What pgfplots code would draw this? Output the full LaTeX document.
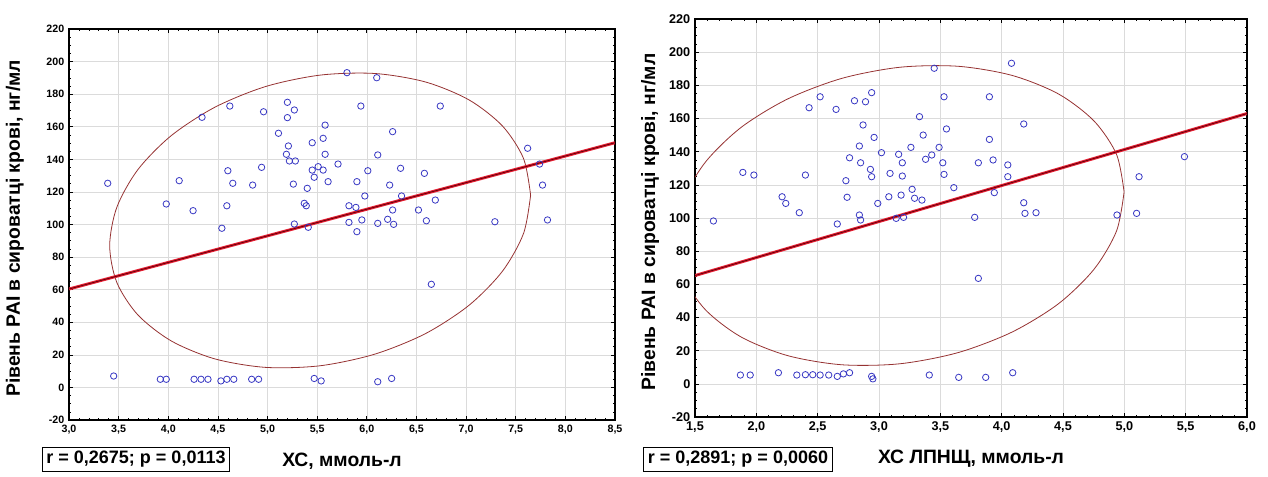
\documentclass[border=0pt]{standalone}
\usepackage{fontspec}
\setmainfont{Liberation Sans}
\usepackage{pgfplots}
\pgfplotsset{compat=1.18}

\definecolor{pt}{RGB}{55,55,195}
\definecolor{ell}{RGB}{150,50,50}
\definecolor{reg}{RGB}{230,30,50}
\definecolor{regc}{RGB}{100,0,10}

\pgfplotsset{
  panel/.style={
    scale only axis, anchor=south west,
    ymin=-20, ymax=220, ytick={-20,0,20,...,220},
    grid=major, major grid style={gray!28, line width=0.4pt},
    minor x tick num=4, minor y tick num=3,
    tick align=inside, xtick pos=both, ytick pos=both,
    major tick length=3pt, minor tick length=1.8pt,
    tick style={black, line width=0.5pt},
    axis line style={black, line width=0.8pt},
    /pgf/number format/assume math mode=true,
    /pgf/number format/use comma,
    xticklabel style={/pgf/number format/fixed, /pgf/number format/fixed zerofill, /pgf/number format/precision=1},
    label style={font=\fontsize{14.5}{16}\selectfont\bfseries},
    x label style={at={(axis description cs:0.5,0)}, anchor=center, yshift=-31pt},
  },
  dots/.style={only marks, mark=o, mark size=2.4pt, mark options={draw=pt, line width=0.6pt}},
  ellip/.style={ell, line width=0.6pt, smooth},
}

\begin{document}
\begin{tikzpicture}
\useasboundingbox (0,0) rectangle (951pt,357pt);

% ---- left: XC
\begin{axis}[panel, at={(51.75pt,42pt)}, width=409.5pt, height=293.25pt,
  xmin=3, xmax=8.5, xtick={3,3.5,4,4.5,5,5.5,6,6.5,7,7.5,8,8.5},
  tick label style={font=\fontsize{8}{9}\selectfont\bfseries},
  xlabel={ХС, ммоль-л},
  ylabel={Рівень PAI в сироватці крові, нг/мл},
  y label style={at={(axis description cs:-0.099,0.49)}, anchor=center}]
\addplot[ellip] coordinates {
 (7.650,118.0) (7.578,140.6) (7.366,160.5) (7.029,176.5) (6.590,187.5) (6.079,192.7)
 (5.530,191.7) (4.981,184.7) (4.470,172.0) (4.031,154.6) (3.694,133.7) (3.482,110.6)
 (3.410,87.0) (3.482,64.4) (3.694,44.5) (4.031,28.5) (4.470,17.5) (4.981,12.3)
 (5.530,13.3) (6.079,20.4) (6.590,33.0) (7.029,50.4) (7.366,71.3) (7.578,94.4) (7.650,118.0)};
\addplot[reg, line width=2.2pt] coordinates {(3,60.4) (8.5,150.2)};
\addplot[regc, line width=0.6pt] coordinates {(3,60.4) (8.5,150.2)};
\addplot[dots] coordinates {
 (4.62,172.7) (4.34,165.8) (4.96,169.2) (5.20,175.0) (5.27,170.3) (5.20,165.6) (5.11,156.0)
 (5.58,161.0) (5.56,152.9) (5.45,150.2) (5.21,148.2) (5.19,143.1) (5.22,139.0) (5.28,139.0)
 (5.58,143.1) (5.71,137.1) (5.45,133.4) (5.51,135.5) (5.56,133.4) (5.47,129.0) (5.61,126.3)
 (5.26,124.8) (5.40,122.2) (5.37,113.0) (5.39,111.5) (5.27,100.3) (5.41,98.3) (4.60,133.0)
 (4.65,125.3) (4.85,124.2) (4.94,135.1) (4.59,111.5) (4.25,108.5) (4.54,97.7) (4.11,126.9)
 (5.80,193.2) (6.10,190.1) (5.94,172.7) (6.74,172.7) (6.26,157.0) (6.11,142.7) (6.01,133.0)
 (6.34,134.5) (6.58,131.4) (5.90,126.3) (6.23,124.2) (5.98,117.5) (6.35,117.5) (6.69,115.0)
 (5.82,111.5) (5.89,110.5) (6.26,108.9) (6.52,108.9) (5.82,101.3) (5.95,102.8) (6.11,100.7)
 (6.21,103.2) (6.27,100.1) (6.60,102.3) (5.90,95.6) (6.65,63.3) (7.62,146.8) (7.74,137.1)
 (7.77,124.2) (7.82,102.8) (7.29,101.7) (3.39,125.3) (3.98,112.6)
 (3.45,7) (3.92,5) (3.98,5) (4.26,5) (4.33,5) (4.40,5) (4.53,4) (4.59,5) (4.66,5)
 (4.84,5) (4.91,5) (5.47,5.5) (5.54,4) (6.11,3.5) (6.25,5.5)};
\end{axis}

% ---- right: XC LDL
\begin{axis}[panel, at={(521.25pt,44.25pt)}, width=414pt, height=298.5pt,
  xmin=1.5, xmax=6, xtick={1.5,2,2.5,3,3.5,4,4.5,5,5.5,6},
  tick label style={font=\fontsize{9.5}{11}\selectfont\bfseries},
  xlabel={ХС ЛПНЩ, ммоль-л},
  ylabel={Рівень PAI в сироватці крові, нг/мл},
  y label style={at={(axis description cs:-0.0815,0.49)}, anchor=center}]
\addplot[ellip] coordinates {
 (4.998,115.7) (4.936,138.4) (4.753,158.5) (4.463,174.8) (4.084,186.0) (3.643,191.5)
 (3.170,190.9) (2.697,184.2) (2.256,171.8) (1.877,154.7) (1.587,133.9) (1.404,110.9)
 (1.342,87.3) (1.404,64.6) (1.587,44.5) (1.877,28.2) (2.256,17.0) (2.697,11.5)
 (3.170,12.1) (3.643,18.8) (4.084,31.2) (4.463,48.3) (4.753,69.1) (4.936,92.1) (4.998,115.7)};
\addplot[reg, line width=2.2pt] coordinates {(1.5,65.3) (6,163)};
\addplot[regc, line width=0.6pt] coordinates {(1.5,65.3) (6,163)};
\addplot[dots] coordinates {
 (3.45,190.3) (4.08,193.3) (2.52,173.1) (2.43,166.5) (2.65,165.5) (2.80,170.7) (2.89,170.1)
 (2.94,175.6) (3.53,173.1) (3.90,173.1) (3.33,161.1) (2.87,156.1) (4.18,156.7) (3.55,153.7)
 (3.36,150.0) (2.96,148.6) (3.90,147.4) (2.84,143.4) (3.26,142.6) (3.49,142.6) (3.02,139.4)
 (3.16,138.4) (3.19,133.3) (2.76,136.3) (2.85,133.3) (3.38,135.4) (3.43,138.0) (3.52,133.3)
 (3.81,133.3) (3.93,135.0) (4.05,132.0) (2.93,129.3) (2.94,124.9) (3.09,126.9) (3.19,125.3)
 (3.53,126.3) (4.05,124.9) (2.40,125.9) (2.73,122.5) (3.61,118.3) (3.27,117.3) (3.94,115.3)
 (2.21,112.8) (2.24,108.8) (2.74,112.5) (3.08,112.8) (3.18,113.8) (3.29,111.9) (3.35,110.8)
 (2.99,108.8) (4.18,109.2) (2.35,103.2) (2.84,101.8) (2.85,98.8) (3.14,99.8) (3.20,100.4)
 (2.66,96.4) (3.78,100.4) (4.19,102.8) (4.28,103.2) (3.81,63.6) (1.65,98.2) (1.89,127.5)
 (1.98,125.9) (5.49,137.0) (5.12,124.9) (4.94,101.8) (5.10,102.8)
 (1.87,5.3) (1.95,5.3) (2.18,6.7) (2.33,5.3) (2.40,5.5) (2.46,5.5) (2.52,5.3) (2.59,5.3)
 (2.66,4.5) (2.71,6) (2.76,6.7) (2.94,4.5) (2.95,3) (3.41,5.3) (3.65,3.9) (3.87,3.9) (4.09,6.7)};
\end{axis}

\node[draw, line width=0.7pt, inner sep=3pt, font=\fontsize{13.5}{15}\selectfont\bfseries] at (102pt,12.4pt) {r = 0,2675; p = 0,0113};
\node[draw, line width=0.7pt, inner sep=3pt, font=\fontsize{13.5}{15}\selectfont\bfseries] at (553.5pt,12.4pt) {r = 0,2891; p = 0,0060};
\end{tikzpicture}
\end{document}
